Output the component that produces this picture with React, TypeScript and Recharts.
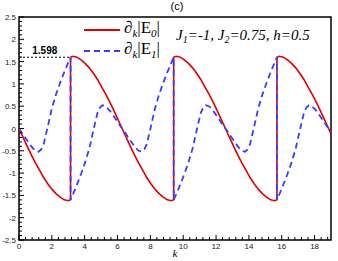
import { LineChart, Line, XAxis, YAxis, ReferenceLine, ReferenceArea } from "recharts";

// wave-vector grid, duplicated points at k = pi, 3pi, 5pi carry the jumps
const kValues = [
  0, 0.25, 0.5, 0.75, 1, 1.2, 1.35, 1.5, 1.75, 2, 2.25, 2.5, 2.75, 3, 3.14,
  3.14, 3.28, 3.53, 3.78, 4.03, 4.28, 4.53, 4.78, 4.93, 5.08, 5.28, 5.53, 5.78, 6.03, 6.28,
  6.53, 6.78, 7.03, 7.28, 7.48, 7.63, 7.78, 8.03, 8.28, 8.53, 8.78, 9.03, 9.28, 9.42,
  9.42, 9.57, 9.82, 10.07, 10.32, 10.57, 10.82, 11.07, 11.22, 11.37, 11.57, 11.82, 12.07, 12.32, 12.57,
  12.82, 13.07, 13.32, 13.57, 13.77, 13.92, 14.07, 14.32, 14.57, 14.82, 15.07, 15.32, 15.57, 15.71,
  15.71, 15.85, 16.1, 16.35, 16.6, 16.85, 17.1, 17.35, 17.5, 17.65, 17.85, 18.1, 18.35, 18.6, 18.85, 19,
];

const e0Values = [
  0, -0.2, -0.4, -0.59, -0.77, -0.9, -1, -1.1, -1.24, -1.36, -1.46, -1.54, -1.6, -1.62, -1.598,
  1.598, 1.62, 1.6, 1.54, 1.46, 1.36, 1.24, 1.1, 1, 0.9, 0.77, 0.59, 0.4, 0.2, 0,
  -0.2, -0.4, -0.59, -0.77, -0.9, -1, -1.1, -1.24, -1.36, -1.46, -1.54, -1.6, -1.62, -1.598,
  1.598, 1.62, 1.6, 1.54, 1.46, 1.36, 1.24, 1.1, 1, 0.9, 0.77, 0.59, 0.4, 0.2, 0,
  -0.2, -0.4, -0.59, -0.77, -0.9, -1, -1.1, -1.24, -1.36, -1.46, -1.54, -1.6, -1.62, -1.598,
  1.598, 1.62, 1.6, 1.54, 1.46, 1.36, 1.24, 1.1, 1, 0.9, 0.77, 0.59, 0.4, 0.2, 0, -0.12,
];

const e1Values = [
  0, -0.13, -0.27, -0.4, -0.5, -0.52, -0.47, -0.35, 0.04, 0.45, 0.76, 1.02, 1.26, 1.48, 1.598,
  -1.598, -1.48, -1.26, -1.02, -0.76, -0.45, -0.04, 0.35, 0.47, 0.52, 0.5, 0.4, 0.27, 0.13, 0,
  -0.13, -0.27, -0.4, -0.5, -0.52, -0.47, -0.35, 0.04, 0.45, 0.76, 1.02, 1.26, 1.48, 1.598,
  -1.598, -1.48, -1.26, -1.02, -0.76, -0.45, -0.04, 0.35, 0.47, 0.52, 0.5, 0.4, 0.27, 0.13, 0,
  -0.13, -0.27, -0.4, -0.5, -0.52, -0.47, -0.35, 0.04, 0.45, 0.76, 1.02, 1.26, 1.48, 1.598,
  -1.598, -1.48, -1.26, -1.02, -0.76, -0.45, -0.04, 0.35, 0.47, 0.52, 0.5, 0.4, 0.27, 0.13, 0, -0.08,
];

const xMajorTicks = [0, 2, 4, 6, 8, 10, 12, 14, 16, 18];
const yMajorTicks = [-2.5, -2, -1.5, -1, -0.5, 0, 0.5, 1, 1.5, 2, 2.5];
const peakValue = 1.598;
const peakK = 3.14;

const RED = "#e00000";
const BLUE = "#3c3cff";
const SANS = "'Liberation Sans', Arial, sans-serif";
const SERIF = "'Liberation Serif', 'Times New Roman', serif";

const data = kValues.map((k, i) => ({ k, e0: e0Values[i], e1: e1Values[i] }));

// minor ticks: 5 per major interval on both axes
const xTicks: number[] = [];
for (let i = 0; i <= 47; i++) xTicks.push(Math.round(i * 4) / 10);
const yTicks: number[] = [];
for (let i = -25; i <= 25; i++) yTicks.push(i / 10);

const XTick = (props: any) => {
  const { x, y, payload } = props;
  const major = xMajorTicks.includes(payload.value);
  return (
    <g>
      <line x1={x} x2={x} y1={y} y2={y - (major ? 5 : 3)} stroke="#000" strokeWidth={1} />
      {major && (
        <text x={x} y={y + 9} textAnchor="middle" fontSize={8} fontFamily={SANS} fill="#222">
          {payload.value}
        </text>
      )}
    </g>
  );
};

const YTick = (props: any) => {
  const { x, y, payload } = props;
  const major = yMajorTicks.includes(payload.value);
  return (
    <g>
      <line x1={x} x2={x + (major ? 5 : 3)} y1={y} y2={y} stroke="#000" strokeWidth={1} />
      {major && (
        <text x={x - 3} y={y + 3} textAnchor="end" fontSize={8} fontFamily={SANS} fill="#222">
          {payload.value}
        </text>
      )}
    </g>
  );
};

const sub = (t: string) => (
  <span style={{ fontSize: 11, fontStyle: "italic", verticalAlign: "-0.35em" }}>{t}</span>
);

function LegendRow({ color, dashed, idx, top }: { color: string; dashed: boolean; idx: string; top: number }) {
  return (
    <div style={{ position: "absolute", left: 84, top: top - 12, height: 24, display: "flex", alignItems: "center" }}>
      <svg width={36} height={4}>
        <line x1={0} x2={36} y1={2} y2={2} stroke={color} strokeWidth={2} strokeDasharray={dashed ? "6 4" : undefined} />
      </svg>
      <span style={{ marginLeft: 4, fontFamily: SERIF, fontSize: 17, lineHeight: "24px", whiteSpace: "nowrap" }}>
        ∂{sub("k")}|E{sub(idx)}|
      </span>
    </div>
  );
}

export default function App() {
  return (
    <div style={{ position: "absolute", left: 0, top: 0, width: 338, height: 261, background: "#fff" }}>
      <LineChart width={338} height={261} data={data} margin={{ top: 17, right: 7, bottom: 0, left: 0 }}>
        <XAxis
          dataKey="k"
          type="number"
          domain={[0, 19]}
          ticks={xTicks}
          interval={0}
          tick={<XTick />}
          tickLine={false}
          axisLine={false}
          tickSize={0}
          tickMargin={0}
          height={21}
          label={{ value: "k", position: "insideBottom", offset: 4, style: { fontStyle: "italic", fontFamily: SERIF, fontSize: 11, fill: "#000" } }}
        />
        <YAxis
          type="number"
          domain={[-2.5, 2.5]}
          ticks={yTicks}
          interval={0}
          tick={<YTick />}
          tickLine={false}
          axisLine={false}
          tickSize={0}
          tickMargin={0}
          width={19}
          allowDataOverflow
        />
        <ReferenceArea x1={0} x2={19} y1={-2.5} y2={2.5} fill="none" stroke="#000" strokeWidth={1.5} />
        <ReferenceLine
          segment={[{ x: 0, y: peakValue }, { x: peakK, y: peakValue }]}
          stroke="#000"
          strokeWidth={1}
          strokeDasharray="2 2"
          label={{ value: String(peakValue), position: "top", offset: 3, style: { fontFamily: SANS, fontSize: 10, fontWeight: "bold", fill: "#000" } }}
        />
        <Line type="linear" dataKey="e0" stroke={RED} strokeWidth={1.6} dot={false} isAnimationActive={false} />
        <Line type="linear" dataKey="e1" stroke={BLUE} strokeWidth={1.8} strokeDasharray="6 4" dot={false} isAnimationActive={false} />
      </LineChart>
      <div style={{ position: "absolute", left: 167, top: 0, width: 20, textAlign: "center", fontFamily: SANS, fontSize: 11, lineHeight: "13px" }}>
        (c)
      </div>
      <LegendRow color={RED} dashed={false} idx="0" top={30} />
      <LegendRow color={BLUE} dashed={true} idx="1" top={51} />
      <div style={{ position: "absolute", left: 176, top: 25, fontFamily: SERIF, fontStyle: "italic", fontSize: 15, lineHeight: "20px", whiteSpace: "nowrap" }}>
        J<span style={{ fontSize: 10, verticalAlign: "-0.3em" }}>1</span>=-1, J<span style={{ fontSize: 10, verticalAlign: "-0.3em" }}>2</span>=0.75, h=0.5
      </div>
    </div>
  );
}
